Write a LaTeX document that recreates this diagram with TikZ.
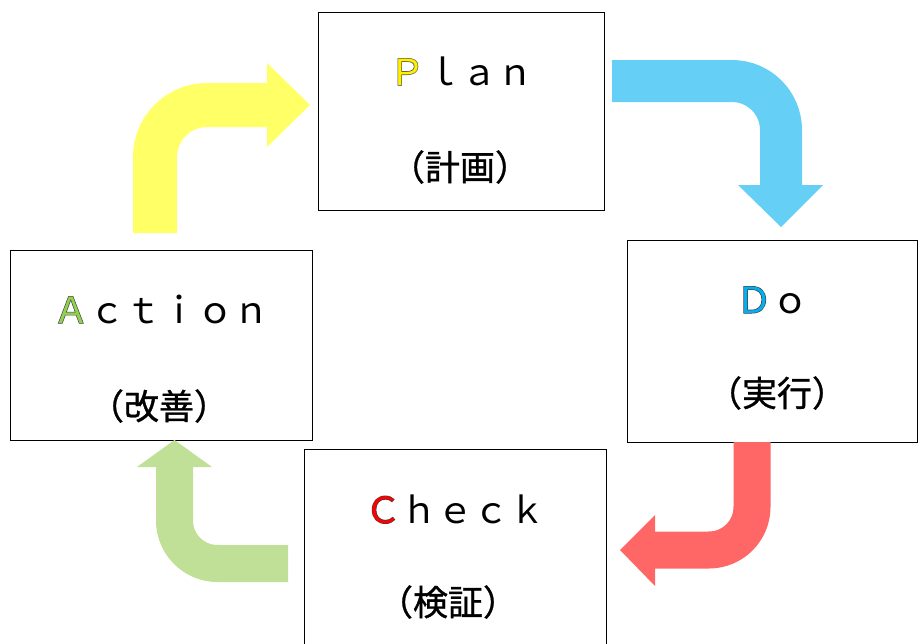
\documentclass[tikz,border=0pt]{standalone}
\usepackage{fontspec}
\setmainfont{Noto Sans CJK JP}
\newfontfamily\jpbold[FakeBold=3]{Noto Sans CJK JP}
\newfontfamily\jpmed[FakeBold=1]{Noto Sans CJK JP}
\definecolor{yelA}{HTML}{FFFF66}
\definecolor{bluA}{HTML}{66CFF5}
\definecolor{redA}{HTML}{FF6666}
\definecolor{grnA}{HTML}{C0E098}
\definecolor{yelL}{HTML}{FFF000}
\definecolor{bluL}{HTML}{00B0F0}
\definecolor{redL}{HTML}{FF0000}
\definecolor{grnL}{HTML}{92D050}
\definecolor{edgeL}{HTML}{404040}
\newcommand\outl[2]{\rlap{\jpbold\color{edgeL}#2}\textcolor{#1}{#2}}
\tikzset{
  box/.style={draw=black, line width=1pt, fill=white, inner sep=0pt},
  latin/.style={font=\fontsize{36}{40}\selectfont, inner sep=0pt, anchor=base},
  kanji/.style={font=\jpmed\fontsize{35}{40}\selectfont, inner sep=0pt, anchor=center},
  shaft/.style={line cap=butt, line join=round},
}
\begin{document}
\begin{tikzpicture}[x=1pt,y=-1pt]
\useasboundingbox (0,0) rectangle (918,643);
% boxes
\node[box, minimum width=286pt, minimum height=198pt] (plan) at (461,111) {};
\node[box, minimum width=290pt, minimum height=202pt] (do) at (772,341) {};
\node[box, minimum width=302pt, minimum height=197pt] (check) at (455,547.5) {};
\node[box, minimum width=302pt, minimum height=190pt] (action) at (161,345) {};
% labels
\node[latin] (planT) at (461,85) {\outl{yelL}{Ｐ}ｌａｎ};
\node[kanji] (planJ) at (460,167) {（計画）};
\node[latin] (doT) at (772,313) {\outl{bluL}{Ｄ}ｏ};
\node[kanji] (doJ) at (777,393) {（実行）};
\node[latin] (checkT) at (455,523) {\outl{redL}{Ｃ}ｈｅｃｋ};
\node[kanji] (checkJ) at (448,602) {（検証）};
\node[latin] (actionT) at (161,323) {\outl{grnL}{Ａ}ｃｔｉｏｎ};
\node[kanji] (actionJ) at (159,406) {（改善）};
% arrow end points
\coordinate (yS) at (155,233);
\coordinate (yC) at (155,105);
\coordinate (yE) at (267,105);
\coordinate (bS) at (612,81);
\coordinate (bC) at (781,81);
\coordinate (bE) at (781,185);
\coordinate (rS) at (752,442);
\coordinate (rC) at (752,550);
\coordinate (rE) at (655,550);
\coordinate (gS) at (288,563.5);
\coordinate (gC) at (174.5,563.5);
\coordinate (gE) at (174.5,467);
% yellow Action -> Plan
\draw[shaft, draw=yelA, line width=44pt, rounded corners=52pt] (yS) -- (yC) -- (yE);
\fill[yelA] (267,63) -- (310,105) -- (267,147) -- cycle;
% blue Plan -> Do
\draw[shaft, draw=bluA, line width=42pt, rounded corners=49pt] (bS) -- (bC) -- (bE);
\fill[bluA] (738,185) -- (781,227) -- (823,185) -- cycle;
% red Do -> Check
\draw[shaft, draw=redA, line width=37pt, rounded corners=43pt] (rS) -- (rC) -- (rE);
\fill[redA] (655,515) -- (620,550) -- (655,586) -- cycle;
% green Check -> Action
\draw[shaft, draw=grnA, line width=37pt, rounded corners=43pt] (gS) -- (gC) -- (gE);
\fill[grnA] (137,467) -- (174.5,440) -- (212,467) -- cycle;
\end{tikzpicture}
\end{document}
